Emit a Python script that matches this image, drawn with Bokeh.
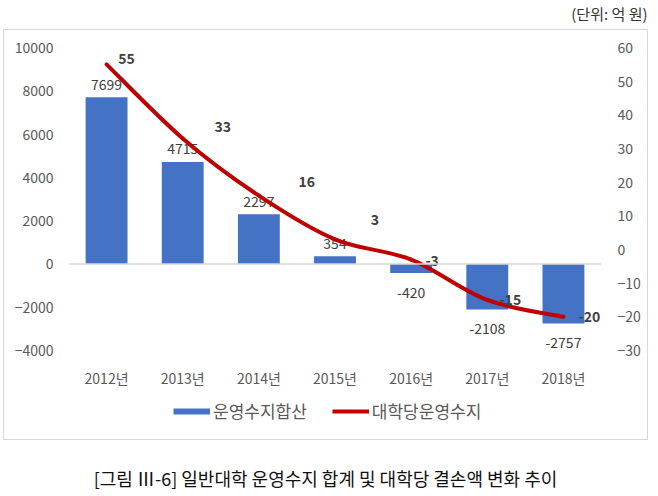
import numpy as np
from bokeh.plotting import figure
from bokeh.layouts import column
from bokeh.models import (ColumnDataSource, Range1d, FactorRange, LinearAxis, SingleIntervalTicker,
                          Span, Legend, LegendItem, Label, InlineStyleSheet)
from bokeh.core.properties import value
from bokeh.embed import file_html
from bokeh.resources import INLINE

# ---- data ----
years = ["2012년", "2013년", "2014년", "2015년", "2016년", "2017년", "2018년"]
total_balance = [7699, 4715, 2297, 354, -420, -2108, -2757]      # 운영수지합산 (left axis)
per_univ_balance = [55, 33, 16, 3, -3, -15, -20]                 # 대학당운영수지 (right axis)
left_ticks_interval = 2000
right_ticks_interval = 10
unit_text = "(단위: 억 원)"
caption_text = "[그림 Ⅲ-6] 일반대학 운영수지 합계 및 대학당 결손액 변화 추이"

FONT = "Noto Sans CJK KR"
BLUE = "#4472C4"
RED = "#C00000"


def bare(fig):
    fig.outline_line_color = None
    fig.xgrid.visible = False
    fig.ygrid.visible = False
    fig.background_fill_color = None
    fig.border_fill_color = None


# ---- top strip: unit text ----
t = figure(width=658, height=29, x_range=Range1d(0, 1), y_range=Range1d(0, 1),
           x_axis_type=None, y_axis_type=None, output_backend="svg", toolbar_location=None,
           title=unit_text, min_border_top=22, min_border_bottom=0,
           min_border_left=0, min_border_right=0)
bare(t)
t.title.align = "right"
t.title.text_font = FONT
t.title.text_font_size = "15px"
t.title.text_font_style = "normal"
t.title.text_color = "#333333"
t.title.offset = -46
t.title.standoff = 0

# ---- main chart ----
p = figure(width=658, height=361, x_range=FactorRange(*years),
           y_range=Range1d(-4001, 10001), output_backend="svg", toolbar_location=None,
           title=None,
           min_border_left=68, min_border_right=57, min_border_top=18, min_border_bottom=40)
p.extra_y_ranges = {"right": Range1d(-30.003, 60.003)}
bare(p)

# zero line
p.add_layout(Span(location=0, dimension="width", line_color="#d9d9d9", line_width=1.5))

# bars
bar_src = ColumnDataSource(dict(
    x=years, top=total_balance,
    lab=[str(v) for v in total_balance],
    yoff=[-13 if v >= 0 else 19 for v in total_balance]))
p.vbar(x="x", top="top", bottom=0, width=0.55, source=bar_src, fill_color=BLUE, line_color=None)
p.text(x="x", y="top", text="lab", source=bar_src, y_offset="yoff",
       text_align="center", text_baseline="middle", text_font=value(FONT),
       text_font_size="14px", text_color="#404040")

# smooth line (bezier segments through the data points)
xs = np.arange(len(years)) + 0.5
ys = np.array(per_univ_balance, dtype=float)
n = len(xs)
seg = dict(x0=[], y0=[], x1=[], y1=[], cx0=[], cy0=[], cx1=[], cy1=[])
for i in range(n - 1):
    xa, ya = (xs[i - 1], ys[i - 1]) if i > 0 else (xs[i], ys[i])
    xd, yd = (xs[i + 2], ys[i + 2]) if i + 2 < n else (xs[i + 1], ys[i + 1])
    seg["x0"].append(xs[i]); seg["y0"].append(ys[i])
    seg["x1"].append(xs[i + 1]); seg["y1"].append(ys[i + 1])
    seg["cx0"].append(xs[i] + (xs[i + 1] - xa) / 6); seg["cy0"].append(ys[i] + (ys[i + 1] - ya) / 6)
    seg["cx1"].append(xs[i + 1] - (xd - xs[i]) / 6); seg["cy1"].append(ys[i + 1] - (yd - ys[i]) / 6)
p.bezier(x0="x0", y0="y0", x1="x1", y1="y1", cx0="cx0", cy0="cy0", cx1="cx1", cy1="cy1",
         source=ColumnDataSource(seg), y_range_name="right", line_color=RED, line_width=4,
         line_cap="round")

# line labels (manual offsets as in the reference)
lab_dx = [20, 40, 48, 40, 21, 23, 26]
lab_dy = [-6, -12, -14, -20, 1, 0, 0]
line_src = ColumnDataSource(dict(x=years, y=per_univ_balance,
                                 lab=[str(v) for v in per_univ_balance],
                                 dx=lab_dx, dy=lab_dy))
p.text(x="x", y="y", text="lab", source=line_src, x_offset="dx", y_offset="dy",
       y_range_name="right", text_align="center", text_baseline="middle",
       text_font=value(FONT), text_font_size="14px", text_font_style="bold", text_color="#404040")

# axes
ra = LinearAxis(y_range_name="right", ticker=SingleIntervalTicker(interval=right_ticks_interval))
p.add_layout(ra, "right")
p.yaxis[0].ticker = SingleIntervalTicker(interval=left_ticks_interval)
for ax in (p.xaxis[0], p.yaxis[0], ra):
    ax.axis_line_color = None
    ax.major_tick_line_color = None
    ax.minor_tick_line_color = None
    ax.major_tick_out = 0
    ax.major_tick_in = 0
    ax.minor_tick_out = 0
    ax.minor_tick_in = 0
    ax.major_label_text_font = FONT
    ax.major_label_text_font_size = "14px"
    ax.major_label_text_color = "#595959"
p.xaxis[0].major_label_standoff = 17
p.yaxis[0].major_label_standoff = 15
ra.major_label_standoff = 16

# ---- bottom strip: legend + caption ----
q = figure(width=658, height=106, x_range=Range1d(0, 1), y_range=Range1d(0, 1),
           x_axis_type=None, y_axis_type=None, output_backend="svg", toolbar_location=None,
           min_border_left=0, min_border_right=0, min_border_top=0, min_border_bottom=0)
bare(q)
# legend-only renderers (a single vertex draws nothing in the strip)
d_bar = q.line(x=[0], y=[0], line_color=BLUE, line_width=6)
d_line = q.line(x=[0], y=[0], line_color=RED, line_width=4)
legend = Legend(items=[LegendItem(label="운영수지합산", renderers=[d_bar]),
                       LegendItem(label="대학당운영수지", renderers=[d_line])],
                location=(105, 73), orientation="horizontal",
                glyph_width=37, glyph_height=20, label_height=20, label_standoff=3, spacing=25,
                padding=0, margin=0, border_line_color=None, background_fill_alpha=0,
                label_text_font=FONT, label_text_font_size="17px", label_text_color="#595959")
q.add_layout(legend)
q.add_layout(Label(x=257, y=19, x_units="screen", y_units="screen", text=caption_text,
                   text_align="center", text_baseline="middle", text_font=FONT,
                   text_font_size="18px", text_color="#111111"))

layout = column(t, p, q, spacing=0)
layout.stylesheets = [InlineStyleSheet(css="""
:host { position: relative; background: white; }
:host::after { content: ""; position: absolute; left: 3px; top: 29px; width: 645px; height: 411px;
  border: 1.5px solid #d9d9d9; box-sizing: border-box; pointer-events: none; }
""")]

open("out.html", "w").write(file_html(layout, INLINE))
